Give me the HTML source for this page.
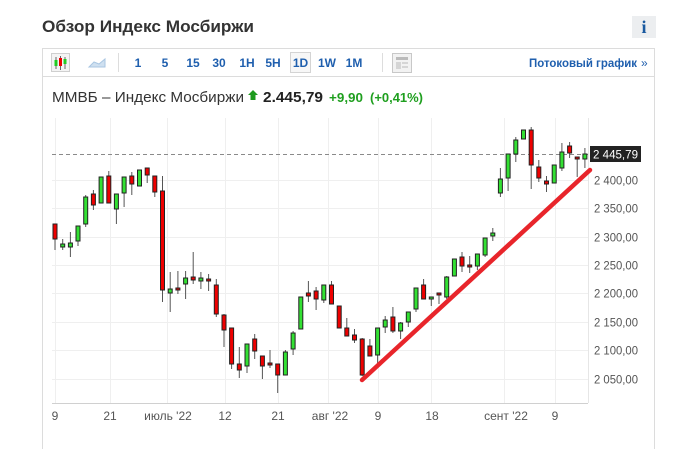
<!DOCTYPE html>
<html><head><meta charset="utf-8">
<style>
html,body{margin:0;padding:0;background:#fff;}
svg{display:block;}
text{font-family:"Liberation Sans",Arial,sans-serif;}
</style></head>
<body>
<svg width="675" height="449" viewBox="0 0 675 449" xmlns="http://www.w3.org/2000/svg">
<rect width="675" height="449" fill="#fff"/>
<!-- title -->
<text x="42" y="32" font-size="17" font-weight="bold" fill="#333" textLength="212" lengthAdjust="spacingAndGlyphs">Обзор Индекс Мосбиржи</text>
<rect x="632" y="16" width="24" height="22" fill="#eceef0"/>
<text x="644" y="33" font-size="18" font-weight="bold" fill="#1a5aa0" text-anchor="middle" style="font-family:'Liberation Serif',serif">i</text>
<!-- frame -->
<rect x="42.5" y="48.5" width="612" height="420" fill="none" stroke="#dcdcdc"/>
<line x1="43" y1="76.5" x2="655" y2="76.5" stroke="#dcdcdc"/>
<!-- toolbar -->
<rect x="51.5" y="53.5" width="18" height="18" fill="#f4f4f4" stroke="#cfcfcf"/>
<line x1="56" y1="57" x2="56" y2="69" stroke="#666"/><rect x="54.5" y="60" width="3" height="6" fill="#2c2"/>
<line x1="60.5" y1="56" x2="60.5" y2="70" stroke="#666"/><rect x="59" y="58" width="3" height="8" fill="#e00"/>
<line x1="65" y1="57" x2="65" y2="69" stroke="#666"/><rect x="63.5" y="59" width="3" height="5" fill="#2c2"/>
<path d="M89 67 L94 62 L99 64 L105 59 L105 67 Z" fill="#cfe0f0" stroke="#a9c6e2"/>
<line x1="118.5" y1="53" x2="118.5" y2="72" stroke="#ddd"/>
<g font-size="12" font-weight="bold" fill="#1f5fae" text-anchor="middle">
<text x="138" y="67">1</text>
<text x="165" y="67">5</text>
<text x="193" y="67">15</text>
<text x="219" y="67">30</text>
<text x="247" y="67">1H</text>
<text x="273" y="67">5H</text>
<rect x="290.5" y="52.5" width="20" height="20" fill="#f7f7f7" stroke="#d4d4d4"/>
<text x="300.5" y="67">1D</text>
<text x="327" y="67">1W</text>
<text x="354" y="67">1M</text>
</g>
<line x1="382.5" y1="53" x2="382.5" y2="72" stroke="#ddd"/>
<rect x="392.5" y="53.5" width="19" height="19" fill="#f2f2f2" stroke="#c8c8c8"/>
<rect x="396" y="57" width="12" height="3" fill="#bbb"/>
<rect x="396" y="62" width="5" height="7" fill="#d5d5d5"/>
<rect x="402" y="62" width="6" height="2" fill="#d5d5d5"/>
<rect x="402" y="66" width="6" height="2" fill="#d5d5d5"/>
<text x="529" y="67" font-size="12" font-weight="bold" fill="#1f5fae" textLength="108" lengthAdjust="spacingAndGlyphs">Потоковый график</text>
<text x="641" y="67" font-size="12" fill="#1f5fae">»</text>
<!-- header -->
<text x="52" y="102" font-size="15" fill="#333" textLength="192" lengthAdjust="spacingAndGlyphs">ММВБ – Индекс Мосбиржи</text>
<path d="M253 90 L258 95 L255.5 95 L255.5 100 L250.5 100 L250.5 95 L248 95 Z" fill="#1d9a1d"/>
<text x="263" y="102" font-size="15" font-weight="bold" fill="#222" textLength="60" lengthAdjust="spacingAndGlyphs">2.445,79</text>
<text x="329" y="102" font-size="13" font-weight="bold" fill="#1f9f1f" textLength="34" lengthAdjust="spacingAndGlyphs">+9,90</text>
<text x="370" y="102" font-size="13" font-weight="bold" fill="#1f9f1f" textLength="53" lengthAdjust="spacingAndGlyphs">(+0,41%)</text>
<!-- grid -->
<g stroke="#efefef" stroke-width="1">
<line x1="52" y1="180.5" x2="588" y2="180.5"/>
<line x1="52" y1="208.5" x2="588" y2="208.5"/>
<line x1="52" y1="237.5" x2="588" y2="237.5"/>
<line x1="52" y1="265.5" x2="588" y2="265.5"/>
<line x1="52" y1="293.5" x2="588" y2="293.5"/>
<line x1="52" y1="322.5" x2="588" y2="322.5"/>
<line x1="52" y1="350.5" x2="588" y2="350.5"/>
<line x1="52" y1="379.5" x2="588" y2="379.5"/>
<line x1="55.5" y1="118" x2="55.5" y2="403"/>
<line x1="110.5" y1="118" x2="110.5" y2="403"/>
<line x1="167.5" y1="118" x2="167.5" y2="403"/>
<line x1="225.5" y1="118" x2="225.5" y2="403"/>
<line x1="278.5" y1="118" x2="278.5" y2="403"/>
<line x1="328.5" y1="118" x2="328.5" y2="403"/>
<line x1="378.5" y1="118" x2="378.5" y2="403"/>
<line x1="431.5" y1="118" x2="431.5" y2="403"/>
<line x1="504.5" y1="118" x2="504.5" y2="403"/>
<line x1="555.5" y1="118" x2="555.5" y2="403"/>
<line x1="588.5" y1="118" x2="588.5" y2="403" stroke="#e6e6e6"/>
</g>
<line x1="52" y1="403.5" x2="588" y2="403.5" stroke="#d0d0d0"/>
<!-- dashed current price -->
<line x1="52" y1="154.5" x2="588" y2="154.5" stroke="#8a8a8a" stroke-dasharray="4,3"/>
<!-- candles -->
<g id="candles" stroke-width="1">
<script type="text/plain"></script>
</g>
<g stroke="#555">
<line x1="55.0" y1="224" x2="55.0" y2="250"/><line x1="62.7" y1="239" x2="62.7" y2="250"/><line x1="70.4" y1="232" x2="70.4" y2="257"/><line x1="78.0" y1="226" x2="78.0" y2="246"/><line x1="85.7" y1="195" x2="85.7" y2="227"/><line x1="93.4" y1="190" x2="93.4" y2="210"/><line x1="101.1" y1="177" x2="101.1" y2="203"/><line x1="108.8" y1="171" x2="108.8" y2="203"/><line x1="116.4" y1="194" x2="116.4" y2="224"/><line x1="124.1" y1="177" x2="124.1" y2="207"/><line x1="131.8" y1="172" x2="131.8" y2="195"/><line x1="139.5" y1="170" x2="139.5" y2="186"/><line x1="147.2" y1="168" x2="147.2" y2="183"/><line x1="154.8" y1="176" x2="154.8" y2="197"/><line x1="162.5" y1="176" x2="162.5" y2="302"/><line x1="170.2" y1="272" x2="170.2" y2="312"/><line x1="177.9" y1="271" x2="177.9" y2="294"/><line x1="185.6" y1="271" x2="185.6" y2="299"/><line x1="193.2" y1="252" x2="193.2" y2="284"/><line x1="200.9" y1="272" x2="200.9" y2="289"/><line x1="208.6" y1="274" x2="208.6" y2="291"/><line x1="216.3" y1="279" x2="216.3" y2="317"/><line x1="224.0" y1="314" x2="224.0" y2="347"/><line x1="231.6" y1="328" x2="231.6" y2="369"/><line x1="239.3" y1="347" x2="239.3" y2="378"/><line x1="247.0" y1="344" x2="247.0" y2="373"/><line x1="254.7" y1="334" x2="254.7" y2="359"/><line x1="262.4" y1="356" x2="262.4" y2="379"/><line x1="270.0" y1="350" x2="270.0" y2="368"/><line x1="277.7" y1="364" x2="277.7" y2="393"/><line x1="285.4" y1="350" x2="285.4" y2="375"/><line x1="293.1" y1="331" x2="293.1" y2="355"/><line x1="300.8" y1="297" x2="300.8" y2="329"/><line x1="308.4" y1="281" x2="308.4" y2="302"/><line x1="316.1" y1="287" x2="316.1" y2="310"/><line x1="323.8" y1="285" x2="323.8" y2="303"/><line x1="331.5" y1="281" x2="331.5" y2="304"/><line x1="339.2" y1="306" x2="339.2" y2="328"/><line x1="346.8" y1="318" x2="346.8" y2="336"/><line x1="354.5" y1="329" x2="354.5" y2="343"/><line x1="362.2" y1="338" x2="362.2" y2="376"/><line x1="369.9" y1="339" x2="369.9" y2="356"/><line x1="377.6" y1="328" x2="377.6" y2="363"/><line x1="385.2" y1="316" x2="385.2" y2="333"/><line x1="392.9" y1="307" x2="392.9" y2="333"/><line x1="400.6" y1="322" x2="400.6" y2="339"/><line x1="408.3" y1="312" x2="408.3" y2="327"/><line x1="416.0" y1="288" x2="416.0" y2="312"/><line x1="423.6" y1="279" x2="423.6" y2="299"/><line x1="431.3" y1="297" x2="431.3" y2="306"/><line x1="439.0" y1="293" x2="439.0" y2="304"/><line x1="446.7" y1="276" x2="446.7" y2="299"/><line x1="454.4" y1="259" x2="454.4" y2="276"/><line x1="462.0" y1="252" x2="462.0" y2="272"/><line x1="469.7" y1="256" x2="469.7" y2="273"/><line x1="477.4" y1="254" x2="477.4" y2="270"/><line x1="485.1" y1="238" x2="485.1" y2="257"/><line x1="492.8" y1="228" x2="492.8" y2="241"/><line x1="500.4" y1="168" x2="500.4" y2="197"/><line x1="508.1" y1="154" x2="508.1" y2="191"/><line x1="515.8" y1="137" x2="515.8" y2="162"/><line x1="523.5" y1="130" x2="523.5" y2="139"/><line x1="531.2" y1="127" x2="531.2" y2="189"/><line x1="538.8" y1="160" x2="538.8" y2="182"/><line x1="546.5" y1="176" x2="546.5" y2="192"/><line x1="554.2" y1="165" x2="554.2" y2="183"/><line x1="561.9" y1="143" x2="561.9" y2="171"/><line x1="569.6" y1="142" x2="569.6" y2="158"/><line x1="577.2" y1="157" x2="577.2" y2="177"/><line x1="584.9" y1="148" x2="584.9" y2="168"/>
</g>
<g stroke="#222" stroke-width="1">
<rect x="53.0" y="224" width="4" height="15" fill="#ee0000"/>
<rect x="60.7" y="244" width="4" height="3" fill="#33e033"/>
<rect x="68.4" y="243" width="4" height="4" fill="#33e033"/>
<rect x="76.0" y="226" width="4" height="15" fill="#33e033"/>
<rect x="83.7" y="197" width="4" height="27" fill="#33e033"/>
<rect x="91.4" y="194" width="4" height="11" fill="#ee0000"/>
<rect x="99.1" y="177" width="4" height="26" fill="#33e033"/>
<rect x="106.8" y="176" width="4" height="27" fill="#ee0000"/>
<rect x="114.4" y="194" width="4" height="15" fill="#33e033"/>
<rect x="122.1" y="177" width="4" height="16" fill="#33e033"/>
<rect x="129.8" y="176" width="4" height="8" fill="#ee0000"/>
<rect x="137.5" y="170" width="4" height="16" fill="#33e033"/>
<rect x="145.2" y="168" width="4" height="7" fill="#ee0000"/>
<rect x="152.8" y="176" width="4" height="16" fill="#ee0000"/>
<rect x="160.5" y="191" width="4" height="99" fill="#ee0000"/>
<rect x="168.2" y="289" width="4" height="4" fill="#33e033"/>
<rect x="175.9" y="288" width="4" height="2" fill="#ee0000"/>
<rect x="183.6" y="278" width="4" height="6" fill="#33e033"/>
<rect x="191.2" y="277" width="4" height="3" fill="#ee0000"/>
<rect x="198.9" y="278" width="4" height="3" fill="#33e033"/>
<rect x="206.6" y="279" width="4" height="2" fill="#ee0000"/>
<rect x="214.3" y="285" width="4" height="29" fill="#ee0000"/>
<rect x="222.0" y="315" width="4" height="15" fill="#ee0000"/>
<rect x="229.6" y="328" width="4" height="36" fill="#ee0000"/>
<rect x="237.3" y="364" width="4" height="6" fill="#ee0000"/>
<rect x="245.0" y="344" width="4" height="22" fill="#33e033"/>
<rect x="252.7" y="339" width="4" height="12" fill="#ee0000"/>
<rect x="260.4" y="356" width="4" height="10" fill="#ee0000"/>
<rect x="268.0" y="363" width="4" height="2" fill="#ee0000"/>
<rect x="275.7" y="364" width="4" height="11" fill="#ee0000"/>
<rect x="283.4" y="352" width="4" height="23" fill="#33e033"/>
<rect x="291.1" y="333" width="4" height="16" fill="#33e033"/>
<rect x="298.8" y="297" width="4" height="32" fill="#33e033"/>
<rect x="306.4" y="293" width="4" height="3" fill="#ee0000"/>
<rect x="314.1" y="291" width="4" height="8" fill="#ee0000"/>
<rect x="321.8" y="285" width="4" height="15" fill="#33e033"/>
<rect x="329.5" y="285" width="4" height="19" fill="#ee0000"/>
<rect x="337.2" y="306" width="4" height="22" fill="#ee0000"/>
<rect x="344.8" y="328" width="4" height="8" fill="#ee0000"/>
<rect x="352.5" y="335" width="4" height="5" fill="#ee0000"/>
<rect x="360.2" y="339" width="4" height="36" fill="#ee0000"/>
<rect x="367.9" y="346" width="4" height="10" fill="#ee0000"/>
<rect x="375.6" y="328" width="4" height="27" fill="#33e033"/>
<rect x="383.2" y="320" width="4" height="7" fill="#33e033"/>
<rect x="390.9" y="317" width="4" height="14" fill="#ee0000"/>
<rect x="398.6" y="323" width="4" height="8" fill="#33e033"/>
<rect x="406.3" y="312" width="4" height="10" fill="#33e033"/>
<rect x="414.0" y="288" width="4" height="21" fill="#33e033"/>
<rect x="421.6" y="285" width="4" height="14" fill="#ee0000"/>
<rect x="429.3" y="297" width="4" height="2" fill="#33e033"/>
<rect x="437.0" y="293" width="4" height="2" fill="#ee0000"/>
<rect x="444.7" y="277" width="4" height="20" fill="#33e033"/>
<rect x="452.4" y="259" width="4" height="17" fill="#33e033"/>
<rect x="460.0" y="257" width="4" height="9" fill="#ee0000"/>
<rect x="467.7" y="265" width="4" height="2" fill="#ee0000"/>
<rect x="475.4" y="254" width="4" height="12" fill="#33e033"/>
<rect x="483.1" y="238" width="4" height="17" fill="#33e033"/>
<rect x="490.8" y="233" width="4" height="3" fill="#33e033"/>
<rect x="498.4" y="179" width="4" height="14" fill="#33e033"/>
<rect x="506.1" y="154" width="4" height="24" fill="#33e033"/>
<rect x="513.8" y="140" width="4" height="14" fill="#33e033"/>
<rect x="521.5" y="130" width="4" height="9" fill="#33e033"/>
<rect x="529.2" y="130" width="4" height="35" fill="#ee0000"/>
<rect x="536.8" y="167" width="4" height="11" fill="#ee0000"/>
<rect x="544.5" y="181" width="4" height="3" fill="#ee0000"/>
<rect x="552.2" y="165" width="4" height="18" fill="#33e033"/>
<rect x="559.9" y="152" width="4" height="16" fill="#33e033"/>
<rect x="567.6" y="146" width="4" height="7" fill="#ee0000"/>
<rect x="575.2" y="157" width="4" height="2" fill="#ee0000"/>
<rect x="582.9" y="154" width="4" height="5" fill="#33e033"/>
</g>
<!-- trend line -->
<line x1="362" y1="380" x2="590" y2="170" stroke="#e8252b" stroke-width="4.5" stroke-linecap="round"/>
<!-- price label -->
<rect x="590" y="146" width="51" height="16" fill="#222"/>
<text x="615.5" y="158.5" font-size="12" fill="#fff" text-anchor="middle" textLength="45" lengthAdjust="spacingAndGlyphs">2 445,79</text>
<!-- y labels -->
<g font-size="12" fill="#555">
<text x="594" y="184.5" textLength="44" lengthAdjust="spacingAndGlyphs">2 400,00</text>
<text x="594" y="212.5" textLength="44" lengthAdjust="spacingAndGlyphs">2 350,00</text>
<text x="594" y="241.5" textLength="44" lengthAdjust="spacingAndGlyphs">2 300,00</text>
<text x="594" y="269.5" textLength="44" lengthAdjust="spacingAndGlyphs">2 250,00</text>
<text x="594" y="297.5" textLength="44" lengthAdjust="spacingAndGlyphs">2 200,00</text>
<text x="594" y="326.5" textLength="44" lengthAdjust="spacingAndGlyphs">2 150,00</text>
<text x="594" y="354.5" textLength="44" lengthAdjust="spacingAndGlyphs">2 100,00</text>
<text x="594" y="383.5" textLength="44" lengthAdjust="spacingAndGlyphs">2 050,00</text>
</g>
<!-- x labels -->
<g font-size="12" fill="#555" text-anchor="middle">
<text x="55" y="420">9</text>
<text x="110" y="420">21</text>
<text x="168" y="420">июль '22</text>
<text x="225" y="420">12</text>
<text x="278" y="420">21</text>
<text x="330" y="420">авг '22</text>
<text x="378" y="420">9</text>
<text x="432" y="420">18</text>
<text x="506" y="420">сент '22</text>
<text x="555" y="420">9</text>
</g>
</svg>
</body></html>
